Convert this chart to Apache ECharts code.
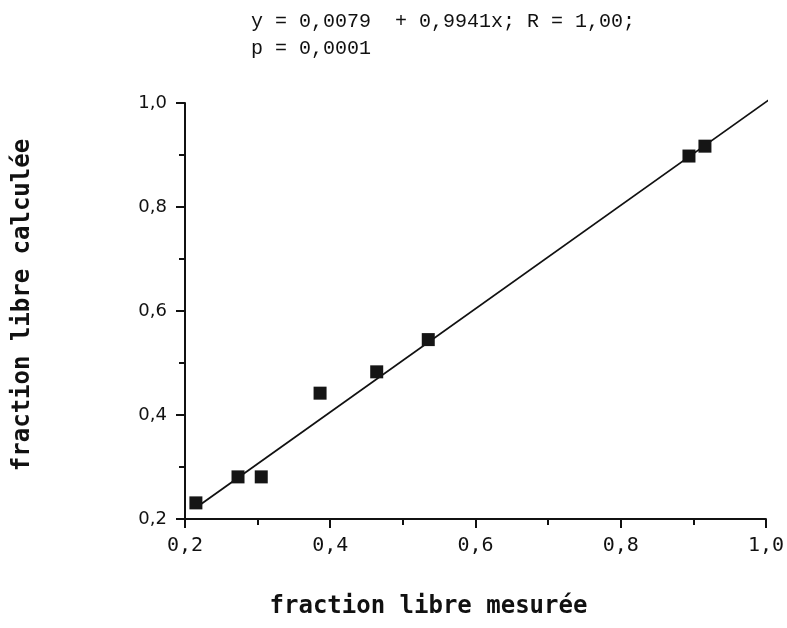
<!DOCTYPE html>
<html>
<head>
<meta charset="utf-8">
<script src="https://cdn.jsdelivr.net/npm/echarts@6/dist/echarts.min.js"></script>
<style>
html,body{margin:0;padding:0;background:#fff}
#chart{width:787px;height:628px}
</style>
</head>
<body>
<div id="chart"></div>
<script>
// fraction libre mesurée / calculée
let mesuree = [0.215, 0.273, 0.305, 0.386, 0.464, 0.535, 0.894, 0.916]
let calculee = [0.231, 0.281, 0.281, 0.442, 0.483, 0.545, 0.898, 0.917]
// droite de régression y = 0,0079 + 0,9941x
let a = 0.0079
let b = 0.9941
let droiteX = [0.215, 1.015]

let myChart = echarts.init(document.getElementById('chart'))

let points = mesuree.map(function (v, i) {
    return [v, calculee[i]]
})
let droite = droiteX.map(function (x) {
    return [x, a + b * x]
})

function fmt(v) {
    return v.toFixed(1).replace('.', ',')
}

let axisCommon = {
    type: 'value',
    min: 0.2,
    max: 1.0,
    interval: 0.2,
    axisLine: {show: true, lineStyle: {color: '#111', width: 2}},
    axisTick: {show: true, length: 9, lineStyle: {color: '#111', width: 2}},
    minorTick: {show: true, splitNumber: 2, length: 6, lineStyle: {color: '#111', width: 2}},
    splitLine: {show: false},
    nameLocation: 'middle',
    nameTextStyle: {
        color: '#111',
        fontFamily: 'DejaVu Sans Mono',
        fontWeight: 'bold',
        fontSize: 24
    }
}

let option = {
    animation: false,
    title: {
        text: 'y = 0,0079  + 0,9941x; R = 1,00;\np = 0,0001',
        left: 246,
        top: 3,
        textStyle: {
            color: '#111',
            fontFamily: 'Liberation Mono',
            fontWeight: 'normal',
            fontSize: 20,
            lineHeight: 27
        }
    },
    grid: {left: 185, right: 18, top: 103, bottom: 109},
    xAxis: Object.assign({}, axisCommon, {
        name: 'fraction libre mesurée',
        nameGap: 76,
        nameTextStyle: Object.assign({}, axisCommon.nameTextStyle, {padding: [0, 94, 0, 0]}),
        axisLabel: {
            color: '#111',
            fontFamily: 'DejaVu Sans Mono',
            fontSize: 20,
            margin: 17,
            formatter: fmt
        }
    }),
    yAxis: Object.assign({}, axisCommon, {
        name: 'fraction libre calculée',
        nameGap: 150,
        nameTextStyle: Object.assign({}, axisCommon.nameTextStyle, {padding: [0, 0, 0, 12]}),
        axisLabel: {
            color: '#111',
            fontFamily: 'DejaVu Sans',
            fontSize: 18,
            margin: 18,
            formatter: fmt
        }
    }),
    series: [
        {
            type: 'line',
            data: droite,
            showSymbol: false,
            clip: false,
            lineStyle: {color: '#111', width: 1.8},
            z: 1
        },
        {
            type: 'scatter',
            data: points,
            symbol: 'rect',
            symbolSize: 13,
            itemStyle: {color: '#151515', opacity: 1},
            z: 2
        }
    ]
}

myChart.setOption(option)
</script>
</body>
</html>
